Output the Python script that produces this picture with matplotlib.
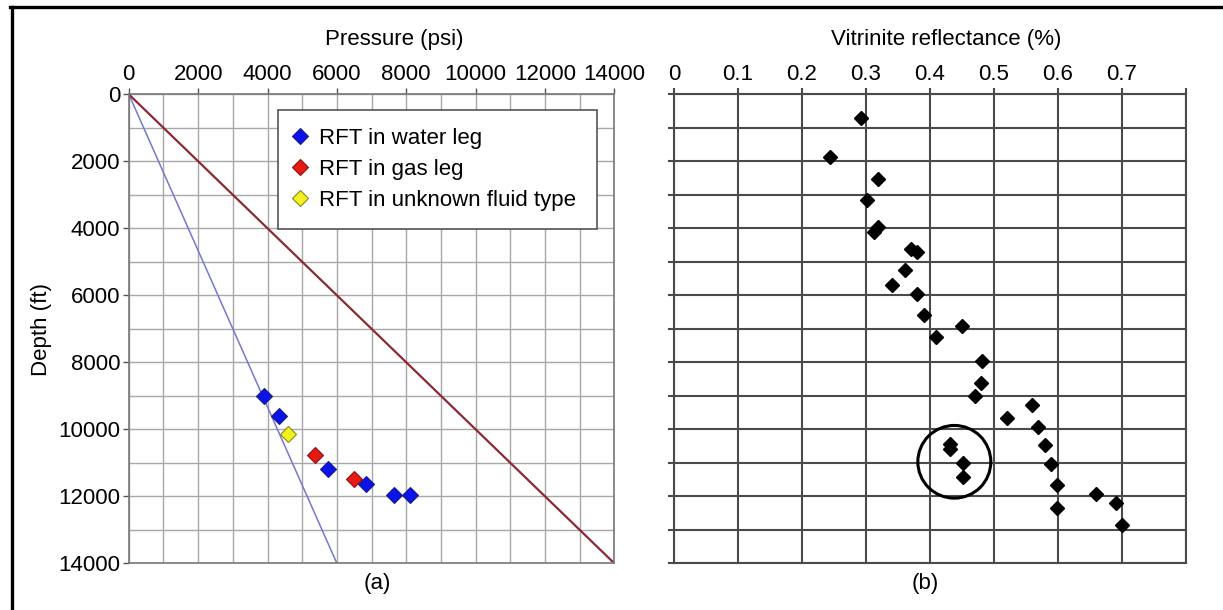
import matplotlib
matplotlib.use("Agg")
import matplotlib.pyplot as plt
from matplotlib.ticker import MultipleLocator, FixedLocator, FixedFormatter
from matplotlib.patches import Ellipse
from matplotlib.lines import Line2D

plt.rcParams['font.family'] = ['Liberation Sans', 'DejaVu Sans']

# ---- Panel (a): pressure vs depth ----
water_p = [3900, 4340, 5730, 6850, 7650, 8120]
water_d = [9000, 9610, 11180, 11620, 11950, 11970]
gas_p = [5360, 6480]
gas_d = [10780, 11470]
unknown_p = [4600]
unknown_d = [10140]
hydro_p = [0, 6000]
hydro_d = [0, 14000]
litho_p = [0, 14000]
litho_d = [0, 14000]
legend_labels = ["RFT in water leg", "RFT in gas leg", "RFT in unknown fluid type"]

# ---- Panel (b): vitrinite reflectance vs depth ----
vr = [0.292, 0.243, 0.319, 0.301, 0.319, 0.312, 0.370, 0.380, 0.361, 0.340,
      0.380, 0.390, 0.450, 0.410, 0.481, 0.480, 0.471, 0.559, 0.521, 0.569,
      0.579, 0.589, 0.598, 0.598, 0.660, 0.691, 0.700,
      0.431, 0.432, 0.451, 0.451]
vr_d = [720, 1880, 2520, 3170, 3960, 4110, 4630, 4700, 5240, 5700,
        5950, 6590, 6920, 7240, 7960, 8620, 9020, 9270, 9670, 9940,
        10470, 11030, 11670, 12340, 11920, 12200, 12860,
        10440, 10590, 11000, 11410]
circle_center = (0.438, 10970)

FS = 16

W, H = 1223, 610
fig = plt.figure(figsize=(W / 100, H / 100), dpi=100)
fig.patch.set_facecolor('white')

def fx(px):
    return px / W

def fy(py):
    return 1 - py / H

top, bot = 94.3, 563.3
axA = fig.add_axes([fx(128.8), fy(bot), fx(614.3 - 128.8), (bot - top) / H])
axB = fig.add_axes([fx(674.0), fy(bot), fx(1186.0 - 674.0), (bot - top) / H])

# ---- Panel (a) ----
axA.plot(hydro_p, hydro_d, color='#7777cc', lw=1.1, zorder=2)
axA.plot(litho_p, litho_d, color='#8b2a35', lw=1.6, zorder=2)
hw, = axA.plot(water_p, water_d, 'D', ms=8, mfc='#0a14e6', mec='#1a1a90', mew=0.8, ls='none', zorder=4)
hg, = axA.plot(gas_p, gas_d, 'D', ms=8, mfc='#e61a10', mec='#901010', mew=0.8, ls='none', zorder=4)
hu, = axA.plot(unknown_p, unknown_d, 'D', ms=8, mfc='#f5f020', mec='#8a8a10', mew=0.8, ls='none', zorder=4)

axA.set_xlim(0, 14000)
axA.set_ylim(14000, 0)
axA.xaxis.set_major_locator(MultipleLocator(2000))
axA.xaxis.set_minor_locator(MultipleLocator(1000))
axA.yaxis.set_major_locator(MultipleLocator(2000))
axA.yaxis.set_minor_locator(MultipleLocator(1000))
axA.xaxis.tick_top()
axA.grid(which='both', color='#a8a8a8', lw=1.0, zorder=0)
axA.set_axisbelow(True)
axA.tick_params(which='major', direction='out', length=4, width=1.0, color='#555555',
                labelsize=FS)
axA.tick_params(axis='x', which='major', pad=3)
axA.tick_params(axis='y', which='major', pad=2)
axA.tick_params(which='minor', length=0)
for s in ['left', 'top', 'bottom', 'right']:
    axA.spines[s].set_color('#777777')
    axA.spines[s].set_linewidth(1.2)

leg = axA.legend([hw, hg, hu], legend_labels, loc='upper left',
                 bbox_to_anchor=(0.307, 0.9665, 0.657, 0.0), mode='expand',
                 fontsize=FS, frameon=True,
                 fancybox=False, edgecolor='#555555', framealpha=1,
                 borderpad=0.8, labelspacing=0.45, handletextpad=0.65,
                 borderaxespad=0, handlelength=0.4)
leg.get_frame().set_linewidth(1.2)

# ---- Panel (b) ----
axB.plot(vr, vr_d, 'D', ms=7.5, color='black', ls='none', zorder=4)
axB.add_patch(Ellipse(circle_center, width=0.114, height=2170, fill=False,
                      edgecolor='black', lw=2.2, zorder=5))
axB.set_xlim(0, 0.8)
axB.set_ylim(14000, 0)
xt = [0, 0.1, 0.2, 0.3, 0.4, 0.5, 0.6, 0.7, 0.8]
xl = ['0', '0.1', '0.2', '0.3', '0.4', '0.5', '0.6', '0.7', '']
axB.xaxis.set_major_locator(FixedLocator(xt))
axB.xaxis.set_major_formatter(FixedFormatter(xl))
axB.yaxis.set_major_locator(MultipleLocator(1000))
axB.tick_params(axis='y', labelleft=False)
axB.xaxis.tick_top()
axB.grid(which='major', color='#4a4a4a', lw=1.5, zorder=0)
axB.set_axisbelow(True)
axB.tick_params(which='major', direction='out', length=4, width=1.5, color='#4a4a4a',
                labelsize=FS, pad=3)
for s in ['left', 'top', 'bottom', 'right']:
    axB.spines[s].set_color('#4a4a4a')
    axB.spines[s].set_linewidth(1.5)

# ---- Texts ----
fig.text(fx(394), fy(40), 'Pressure (psi)', ha='center', va='center', fontsize=FS)
fig.text(fx(946), fy(40), 'Vitrinite reflectance (%)', ha='center', va='center', fontsize=FS)
fig.text(fx(42), fy(330), 'Depth (ft)', ha='center', va='center', rotation=90, fontsize=FS)
fig.text(fx(377), fy(583), '(a)', ha='center', va='center', fontsize=FS)
fig.text(fx(925), fy(583), '(b)', ha='center', va='center', fontsize=FS)

# ---- Outer frame ----
fig.add_artist(Line2D([fx(11.5), fx(11.5)], [fy(6.5), 0], transform=fig.transFigure,
                      color='black', lw=2.4))
fig.add_artist(Line2D([fx(10), 1], [fy(6.5), fy(6.5)], transform=fig.transFigure,
                      color='black', lw=2.4))

fig.savefig('out.png', dpi=100, facecolor='white')
